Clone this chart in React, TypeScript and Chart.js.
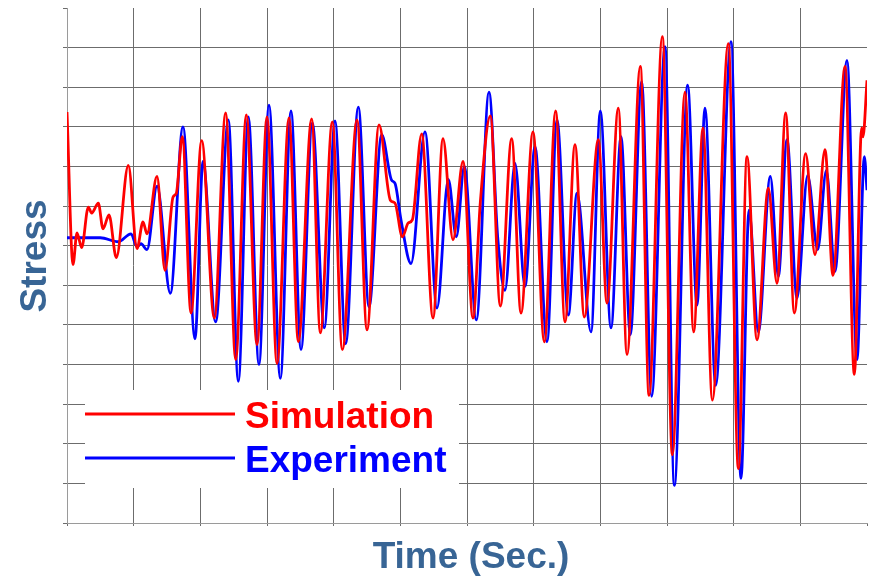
import React, { useEffect, useRef } from "react";
import { Chart, registerables } from "chart.js";

Chart.register(...registerables);

// Time axis (s) and stress axis (arbitrary units, 13 grid divisions)
const TIME_MIN = 0;
const TIME_MAX = 12;
const TIME_STEP = 1;
const STRESS_MIN = 0;
const STRESS_MAX = 520;
const STRESS_STEP = 40;

// Simulation (red) — extrema
const SIM_T = [
  0.0, 0.09, 0.15, 0.22, 0.32, 0.37, 0.47, 0.54, 0.63, 0.74, 0.92, 1.05, 1.14, 1.2, 1.35, 1.47,
  1.59, 1.64, 1.73, 1.86, 2.02, 2.21, 2.38, 2.53, 2.69, 2.85, 3.0, 3.15, 3.33, 3.47, 3.67, 3.8,
  3.98, 4.13, 4.35, 4.5, 4.68, 4.85, 4.92, 5.03, 5.12, 5.18, 5.32, 5.49, 5.64, 5.79, 5.94, 6.09,
  6.2, 6.35, 6.5, 6.67, 6.81, 6.99, 7.16, 7.33, 7.47, 7.62, 7.76, 7.97, 8.1, 8.27, 8.4, 8.6,
  8.73, 8.93, 9.08, 9.27, 9.4, 9.54, 9.68, 9.92, 10.07, 10.2, 10.35, 10.52, 10.65, 10.78, 10.91,
  11.08, 11.22, 11.37, 11.49, 11.67, 11.81, 11.92, 11.94, 12.0,
];
const SIM_S = [
  415, 261, 293, 278, 319, 313, 323, 297, 311, 268, 361, 277, 304, 292, 350, 255,
  329, 333, 390, 212, 386, 207, 414, 165, 412, 180, 410, 161, 409, 183, 408, 192,
  405, 175, 407, 195, 402, 326, 323, 289, 303, 306, 393, 207, 388, 286, 365, 207,
  324, 411, 219, 388, 212, 395, 183, 416, 203, 382, 208, 387, 222, 419, 170, 461,
  129, 491, 69, 435, 193, 399, 124, 484, 55, 370, 185, 338, 242, 414, 212,
  373, 271, 377, 250, 461, 150, 399, 390, 447,
];

// Experiment (blue)
const EXP_T = [
  0.0, 0.5, 0.77, 0.96, 1.05, 1.11, 1.2, 1.35, 1.55, 1.74, 1.92, 2.04, 2.23, 2.42, 2.57, 2.72,
  2.88, 3.03, 3.2, 3.36, 3.51, 3.68, 3.86, 4.02, 4.18, 4.37, 4.53, 4.72, 4.87, 4.92, 5.01, 5.16,
  5.37, 5.55, 5.72, 5.84, 5.96, 6.14, 6.33, 6.46, 6.57, 6.72, 6.87, 7.02, 7.2, 7.35, 7.52, 7.65,
  7.86, 8.0, 8.16, 8.31, 8.45, 8.62, 8.77, 8.97, 9.11, 9.31, 9.45, 9.57, 9.73, 9.96, 10.11, 10.23,
  10.37, 10.55, 10.67, 10.8, 10.95, 11.11, 11.26, 11.39, 11.52, 11.7, 11.85, 11.96, 12.0,
];
const EXP_S = [
  288, 288, 284, 292, 279, 282, 276, 340, 232, 400, 186, 365, 203, 407, 143, 410,
  160, 422, 146, 416, 175, 404, 197, 406, 181, 420, 218, 392, 346, 343, 306, 262,
  395, 217, 347, 289, 360, 205, 435, 289, 235, 363, 239, 380, 183, 407, 210, 333,
  193, 416, 197, 390, 190, 446, 128, 481, 38, 442, 220, 419, 139, 486, 45, 316,
  193, 350, 249, 387, 227, 351, 276, 356, 254, 467, 165, 370, 336,
];

const SERIES_NAMES = ["Simulation", "Experiment"];
const SERIES_COLORS = ["#ff0000", "#0000ff"];
const X_TITLE = "Time (Sec.)";
const Y_TITLE = "Stress";
const TITLE_COLOR = "#386595";
const GRID_COLOR = "#6c6c6c";
const AXIS_COLOR = "#9a9a9a";
const FONT_FAMILY = '"Liberation Sans", Arial, Helvetica, sans-serif';

const toPoints = (t: number[], s: number[]) => t.map((x, i) => ({ x, y: s[i] }));

const overlayPlugin = {
  id: "overlay",
  afterDatasetsDraw(chart: any) {
    const ctx = chart.ctx as CanvasRenderingContext2D;
    const area = chart.chartArea;
    ctx.save();
    // Legend box inside the plot area (white background)
    const bx = area.left + 18;
    const by = area.top + 382;
    ctx.fillStyle = "#ffffff";
    ctx.fillRect(bx, by, 374, 98);
    const ds = chart.data.datasets;
    ctx.font = `bold 37px ${FONT_FAMILY}`;
    ctx.textBaseline = "alphabetic";
    ctx.textAlign = "left";
    const rows = [by + 24, by + 68];
    ds.forEach((d: any, i: number) => {
      const y = rows[i];
      ctx.strokeStyle = d.borderColor;
      ctx.lineWidth = 2.8;
      ctx.beginPath();
      ctx.moveTo(bx, y);
      ctx.lineTo(bx + 150, y);
      ctx.stroke();
      ctx.fillStyle = d.borderColor;
      ctx.fillText(d.label, bx + 160, y + 14);
    });
    // Axis titles
    ctx.fillStyle = TITLE_COLOR;
    ctx.font = `bold 37px ${FONT_FAMILY}`;
    ctx.textAlign = "center";
    ctx.fillText(X_TITLE, (area.left + area.right) / 2 + 4, 568);
    ctx.translate(46, 256);
    ctx.rotate(-Math.PI / 2);
    ctx.fillText(Y_TITLE, 0, 0);
    ctx.restore();
  },
};

export default function App() {
  const ref = useRef<HTMLCanvasElement | null>(null);
  useEffect(() => {
    document.body.style.margin = "0";
    const canvas = ref.current!;
    const chart = new Chart(canvas, {
      type: "line",
      data: {
        datasets: [
          {
            label: SERIES_NAMES[0],
            data: toPoints(SIM_T, SIM_S),
            borderColor: SERIES_COLORS[0],
            backgroundColor: SERIES_COLORS[0],
            borderWidth: 2.8,
            pointRadius: 0,
            cubicInterpolationMode: "monotone",
            fill: false,
          },
          {
            label: SERIES_NAMES[1],
            data: toPoints(EXP_T, EXP_S),
            borderColor: SERIES_COLORS[1],
            backgroundColor: SERIES_COLORS[1],
            borderWidth: 2.8,
            pointRadius: 0,
            cubicInterpolationMode: "monotone",
            fill: false,
          },
        ],
      },
      options: {
        responsive: false,
        animation: false,
        layout: { padding: { top: 8, right: 5, left: 0, bottom: 0 } },
        plugins: {
          legend: { display: false },
          tooltip: { enabled: false },
        },
        scales: {
          x: {
            type: "linear",
            min: TIME_MIN,
            max: TIME_MAX,
            ticks: { stepSize: TIME_STEP, display: false },
            grid: {
              color: (c: any) =>
                c.tick && (c.tick.value === TIME_MAX || c.tick.value === TIME_MIN)
                  ? "rgba(0,0,0,0)"
                  : GRID_COLOR,
              tickColor: GRID_COLOR,
              tickLength: 3,
              lineWidth: 1,
            },
            border: { display: true, color: AXIS_COLOR, width: 1 },
            afterFit: (s: any) => {
              s.height = 54;
            },
          },
          y: {
            type: "linear",
            min: STRESS_MIN,
            max: STRESS_MAX,
            ticks: { stepSize: STRESS_STEP, display: false },
            grid: {
              color: (c: any) =>
                c.tick && (c.tick.value === STRESS_MAX || c.tick.value === STRESS_MIN)
                  ? "rgba(0,0,0,0)"
                  : GRID_COLOR,
              tickColor: GRID_COLOR,
              tickLength: 4,
              lineWidth: 1,
            },
            border: { display: true, color: AXIS_COLOR, width: 1 },
            afterFit: (s: any) => {
              s.width = 67;
            },
          },
        },
      } as any,
      plugins: [overlayPlugin],
    });
    return () => chart.destroy();
  }, []);
  return (
    <div style={{ position: "absolute", left: 0, top: 0, width: 872, height: 577, background: "#fff" }}>
      <canvas ref={ref} width={872} height={577} />
    </div>
  );
}
